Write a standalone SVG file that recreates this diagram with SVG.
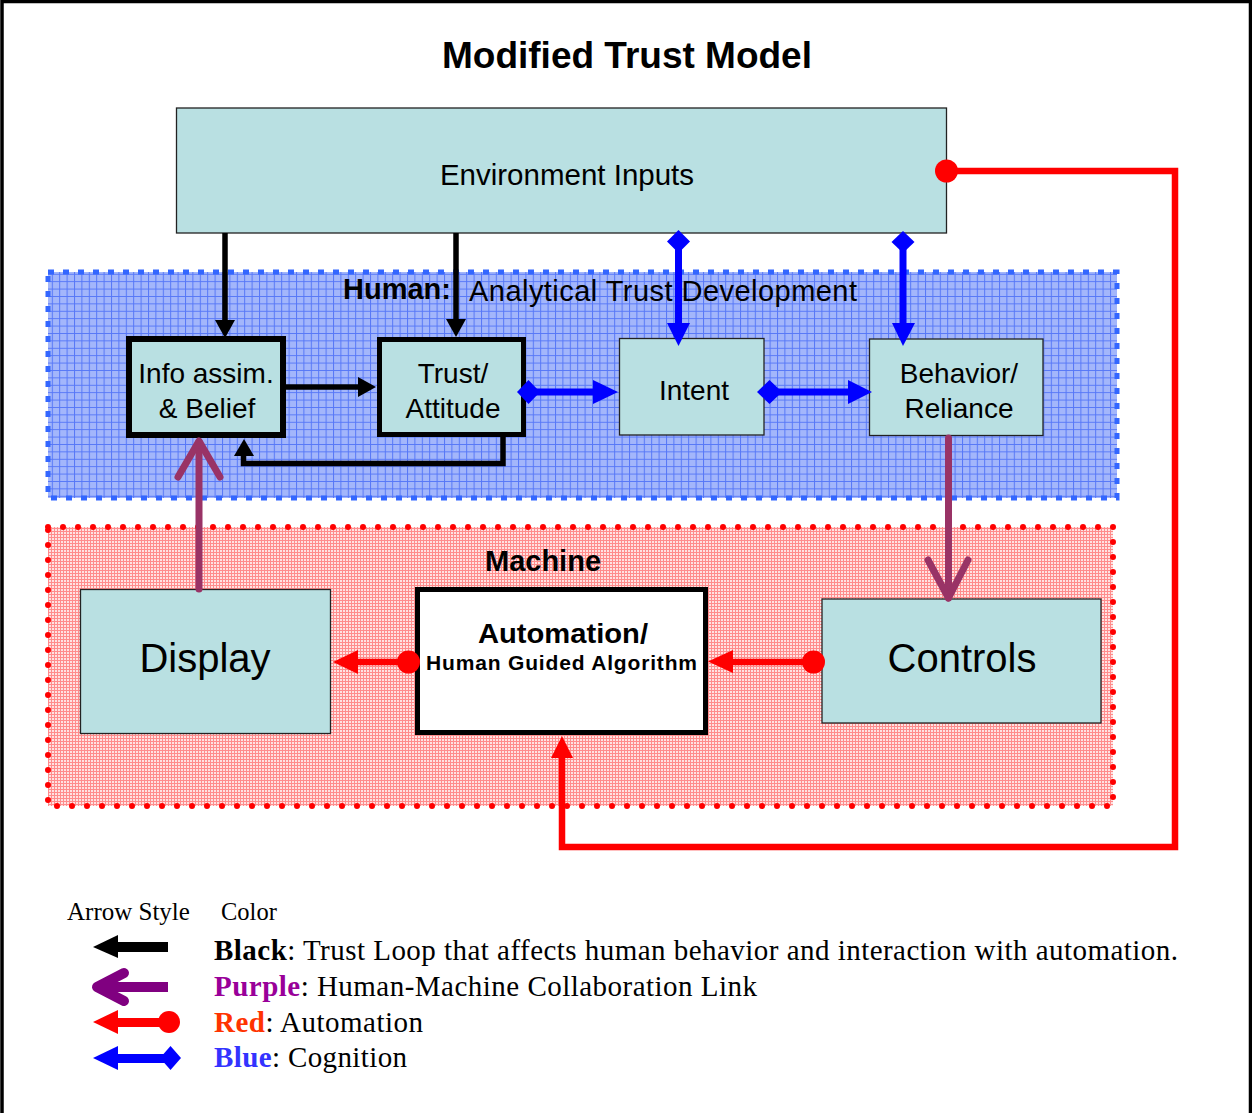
<svg xmlns="http://www.w3.org/2000/svg" width="1252" height="1113" viewBox="0 0 1252 1113">
  <defs>
    <!-- grid texture for the human (cognition) region -->
    <pattern id="gridBlue" patternUnits="userSpaceOnUse" width="7.4" height="7.4">
      <rect width="7.4" height="7.4" fill="#a3b6fb"/>
      <path d="M0 0.5H7.4M0.5 0V7.4" stroke="#5677f7" stroke-width="1"/>
    </pattern>
    <!-- fine grid texture for the machine region -->
    <pattern id="gridRed" patternUnits="userSpaceOnUse" width="3" height="3">
      <rect width="3" height="3" fill="#ffe2e2"/>
      <path d="M0 0.5H3M0.5 0V3" stroke="#ff8c8c" stroke-width="1"/>
    </pattern>
    <style>
      .sans { font-family: "Liberation Sans", Arial, sans-serif; }
      .serif { font-family: "Liberation Serif", "Times New Roman", serif; }
      .box { fill: #b9e0e2; stroke: #222; stroke-width: 1.3; }
      .boxBold { fill: #b9e0e2; stroke: #000; }
      .lbl { font-size: 28px; fill: #000; text-anchor: middle; }
      .blk { stroke: #000; fill: none; stroke-width: 5.5; }
      .blue { stroke: #0000ff; fill: none; stroke-width: 7; }
      .red { stroke: #ff0000; fill: none; stroke-width: 6.5; }
      .pur { stroke: #993366; fill: none; stroke-width: 7; stroke-linecap: round; stroke-linejoin: round; }
      .fBlk { fill: #000; }
      .fBlue { fill: #0000ff; }
      .fRed { fill: #ff0000; }
      .leg { font-size: 29px; fill: #000; }
    </style>
  </defs>

  <rect width="1252" height="1113" fill="#fff"/>
  <!-- page frame -->
  <path d="M2 1113V1.5H1250.5V1113" fill="none" stroke="#000" stroke-width="3.5"/>

  <text class="sans" x="627" y="68" font-size="37" font-weight="bold" text-anchor="middle">Modified Trust Model</text>

  <!-- regions -->
  <g id="human-region">
    <rect x="48" y="272" width="1069" height="226" fill="url(#gridBlue)" stroke="#3366ff" stroke-width="5" stroke-dasharray="6 9"/>
    <text class="sans" x="343" y="299" font-size="29" font-weight="bold">Human:</text>
    <text class="sans" x="469" y="301" font-size="29" textLength="388" lengthAdjust="spacing">Analytical Trust Development</text>
  </g>
  <g id="machine-region">
    <rect x="48" y="527" width="1065" height="279" fill="url(#gridRed)" stroke="#ff0000" stroke-width="6" stroke-dasharray="0 15" stroke-linecap="round"/>
    <text class="sans" x="543" y="571" font-size="29" font-weight="bold" text-anchor="middle">Machine</text>
  </g>

  <!-- nodes -->
  <g id="environment">
    <rect class="box" x="176.5" y="108" width="770" height="125"/>
    <text class="sans" x="567" y="185" font-size="29.5" text-anchor="middle">Environment Inputs</text>
  </g>
  <g id="info-belief">
    <rect class="boxBold" x="129" y="339" width="154" height="96" stroke-width="6"/>
    <text class="sans lbl" x="206" y="383">Info assim.</text>
    <text class="sans lbl" x="207" y="418">&amp; Belief</text>
  </g>
  <g id="trust-attitude">
    <rect class="boxBold" x="379.5" y="339.5" width="144" height="95" stroke-width="5"/>
    <text class="sans lbl" x="453" y="383">Trust/</text>
    <text class="sans lbl" x="453" y="418">Attitude</text>
  </g>
  <g id="intent">
    <rect class="box" x="619.5" y="338.5" width="144.5" height="96.5"/>
    <text class="sans lbl" x="694" y="400">Intent</text>
  </g>
  <g id="behavior-reliance">
    <rect class="box" x="869.5" y="339" width="173.5" height="96.5"/>
    <text class="sans lbl" x="959" y="383">Behavior/</text>
    <text class="sans lbl" x="959" y="418">Reliance</text>
  </g>
  <g id="display">
    <rect class="box" x="80.5" y="589.5" width="250" height="144"/>
    <text class="sans" x="205" y="672" font-size="40" text-anchor="middle">Display</text>
  </g>
  <g id="automation">
    <rect x="417.5" y="589.5" width="288" height="143" fill="#fff" stroke="#000" stroke-width="5"/>
    <text class="sans" x="563" y="643" font-size="28" font-weight="bold" text-anchor="middle" textLength="170" lengthAdjust="spacingAndGlyphs">Automation/</text>
    <text class="sans" x="561.5" y="670" font-size="21" font-weight="bold" text-anchor="middle" textLength="271" lengthAdjust="spacing">Human Guided Algorithm</text>
  </g>
  <g id="controls">
    <rect class="box" x="822" y="599" width="279" height="124"/>
    <text class="sans" x="962" y="672" font-size="40" text-anchor="middle">Controls</text>
  </g>

  <!-- connectors -->
  <g id="connectors">
    <!-- trust loop (black) -->
    <path class="blk" d="M225 233V321"/>
    <polygon class="fBlk" points="215,320 235,320 225,338"/>
    <path class="blk" d="M456 233V320"/>
    <polygon class="fBlk" points="446,319 466,319 456,337"/>
    <path class="blk" d="M284 387H360"/>
    <polygon class="fBlk" points="358,377 358,397 376,387"/>
    <path class="blk" d="M503 435V463.5H243.5V455" stroke-width="6"/>
    <polygon class="fBlk" points="234,456 254,456 244,439"/>

    <!-- cognition (blue) -->
    <path class="blue" d="M530 392H596"/>
    <polygon class="fBlue" points="517,392 528.5,380 540,392 528.5,404"/>
    <polygon class="fBlue" points="593,380 593,404 618,392"/>
    <path class="blue" d="M770 392H850"/>
    <polygon class="fBlue" points="757,392 769.5,380 782,392 769.5,404"/>
    <polygon class="fBlue" points="848,380 848,404 872,392"/>
    <path class="blue" d="M678.5 242V325"/>
    <polygon class="fBlue" points="678.5,230 690,241.5 678.5,253 667,241.5"/>
    <polygon class="fBlue" points="667,323 690,323 678.5,346"/>
    <path class="blue" d="M903 242V325"/>
    <polygon class="fBlue" points="903,231 914.5,242 903,253 891.5,242"/>
    <polygon class="fBlue" points="892,323 915,323 903,346"/>

    <!-- human-machine collaboration (purple) -->
    <path class="pur" d="M948.5 438V598" stroke-linecap="butt"/>
    <path class="pur" d="M928 560L948.5 598L968 560"/>
    <path class="pur" d="M199 589V442" stroke-linecap="butt"/>
    <path class="pur" d="M178 477L199 441L220 477"/>

    <!-- automation (red) -->
    <circle class="fRed" cx="946.5" cy="171" r="11.5"/>
    <path class="red" d="M946 171H1175V847H562V757"/>
    <polygon class="fRed" points="551,758 573,758 562,736"/>
    <circle class="fRed" cx="813.5" cy="662" r="11.5"/>
    <path class="red" d="M813 662H730" stroke-width="8"/>
    <polygon class="fRed" points="733,650 733,673 708,661.5"/>
    <circle class="fRed" cx="408.5" cy="662" r="11.5"/>
    <path class="red" d="M408 662H355" stroke-width="8"/>
    <polygon class="fRed" points="358,650 358,674 333,662"/>
  </g>

  <!-- legend -->
  <g id="legend">
    <text class="serif" x="67" y="920" font-size="25">Arrow Style</text>
    <text class="serif" x="221" y="920" font-size="24.5">Color</text>

    <rect x="115" y="942" width="53" height="10" fill="#000"/>
    <polygon points="93,947 118,935 118,958" fill="#000"/>

    <path d="M97 987H168" stroke="#800080" stroke-width="10" fill="none"/>
    <path d="M124 973L97 987L124 1001" stroke="#800080" stroke-width="10" fill="none" stroke-linecap="round" stroke-linejoin="round"/>

    <rect x="115" y="1018" width="52" height="9" fill="#ff0000"/>
    <polygon points="93,1022 118,1010 118,1034" fill="#ff0000"/>
    <circle cx="169" cy="1022" r="11" fill="#ff0000"/>

    <rect x="115" y="1054" width="50" height="9" fill="#0000ff"/>
    <polygon points="93,1058 118,1046 118,1070" fill="#0000ff"/>
    <polygon points="160,1058 170.5,1046 181,1058 170.5,1070" fill="#0000ff"/>

    <text class="serif leg" x="214" y="960" textLength="964" lengthAdjust="spacing"><tspan font-weight="bold">Black</tspan>: Trust Loop that affects human behavior and interaction with automation.</text>
    <text class="serif leg" x="214" y="996" textLength="543" lengthAdjust="spacing"><tspan font-weight="bold" fill="#990099">Purple</tspan>: Human-Machine Collaboration Link</text>
    <text class="serif leg" x="214" y="1032" textLength="209" lengthAdjust="spacing"><tspan font-weight="bold" fill="#ff3300">Red</tspan>: Automation</text>
    <text class="serif leg" x="214" y="1067" textLength="193" lengthAdjust="spacing"><tspan font-weight="bold" fill="#3333ff">Blue</tspan>: Cognition</text>
  </g>
</svg>
